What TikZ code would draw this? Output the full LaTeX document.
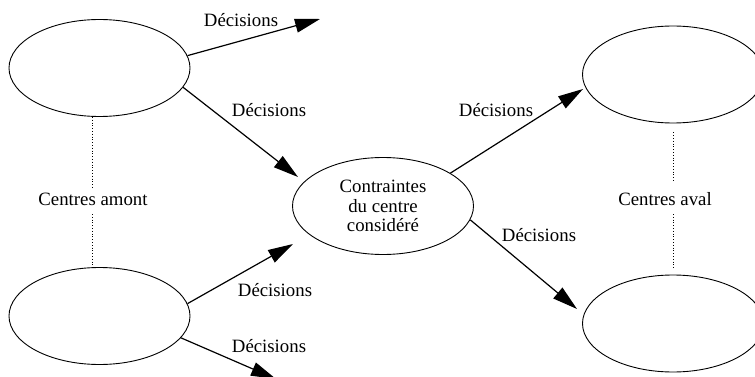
\documentclass[tikz,border=0pt]{standalone}
\usepackage{fontspec}
\setmainfont{Liberation Serif}
\usetikzlibrary{arrows.meta,shapes.geometric}
\begin{document}
\begin{tikzpicture}[x=1pt,y=-1pt,
  ell/.style={draw,ellipse,line width=0.9pt,minimum width=181pt,minimum height=97pt,inner sep=0pt},
  arr/.style={line width=1.2pt,-{Triangle[length=25pt,width=14pt]}},
  lbl/.style={anchor=base,inner sep=0pt,font=\fontsize{18.8}{20}\selectfont},
  dots/.style={dotted,line width=0.8pt}]
\useasboundingbox (0,0) rectangle (755,377);
% ellipses
\node[ell] (tl) at (99.5,68) {};
\node[ell] (bl) at (99.5,316) {};
\node[ell,align=center,font=\fontsize{18.8}{19.5}\selectfont] (c) at (383,206) {Contraintes\\du centre\\considéré};
\node[ell] (tr) at (673,74.5) {};
\node[ell] (br) at (673,323.5) {};
% arrow ends
\coordinate (e1) at (320,19);
\coordinate (e2) at (298,177);
\coordinate (e3) at (293,244);
\coordinate (e4) at (276,379);
\coordinate (e5) at (583,89);
\coordinate (e6) at (577,309);
% arrows
\draw[arr] (tl.8) -- (e1);
\draw[arr] (tl.-13) -- (e2);
\draw[arr] (bl.8) -- (e3);
\draw[arr] (bl.-15) -- (e4);
\draw[arr] (c.26) -- (e5);
\draw[arr] (c.-9) -- (e6);
% labels
\node[lbl] (l1) at (241,27) {Décisions};
\node[lbl] (l2) at (269,117) {Décisions};
\node[lbl] (l3) at (275,296) {Décisions};
\node[lbl] (l4) at (269,352) {Décisions};
\node[lbl] (l5) at (496,117) {Décisions};
\node[lbl] (l6) at (539,241) {Décisions};
\node[lbl] (amont) at (93,205) {Centres amont};
\node[lbl] (aval) at (665,205) {Centres aval};
% dotted links
\coordinate (ax) at (92,0);
\draw[dots] (ax |- tl.south) -- ([yshift=5pt]ax |- amont.north);
\draw[dots] ([yshift=-9pt]ax |- amont.base) -- ([yshift=2pt]ax |- bl.north);
\draw[dots] ([yshift=-9pt]tr.south) -- ([yshift=10pt]tr.south |- aval.north);
\draw[dots] ([yshift=-9pt]tr.south |- aval.base) -- ([yshift=5pt]br.north);
\end{tikzpicture}
\end{document}
